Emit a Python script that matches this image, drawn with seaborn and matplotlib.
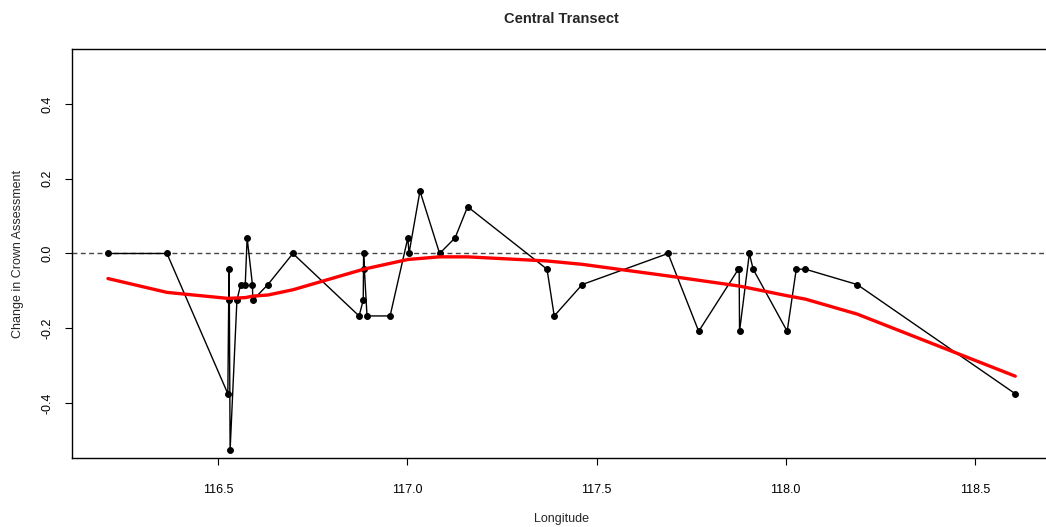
import matplotlib
matplotlib.use("Agg")
import matplotlib.pyplot as plt
import seaborn as sns
import pandas as pd

longitude = [116.208, 116.364, 116.525, 116.528, 116.529, 116.531, 116.549, 116.559,
             116.571, 116.576, 116.590, 116.591, 116.631, 116.697, 116.872, 116.883,
             116.884, 116.886, 116.893, 116.954, 117.001, 117.004, 117.033, 117.085,
             117.126, 117.159, 117.369, 117.388, 117.462, 117.689, 117.770, 117.875,
             117.877, 117.878, 117.904, 117.914, 118.004, 118.028, 118.052, 118.189,
             118.607]
change = [0.0, 0.0, -0.375, -0.042, -0.125, -0.525, -0.125, -0.083,
          -0.083, 0.042, -0.083, -0.125, -0.083, 0.0, -0.167, -0.125,
          0.0, -0.042, -0.167, -0.167, 0.042, 0.0, 0.167, 0.0,
          0.042, 0.125, -0.042, -0.167, -0.083, 0.0, -0.208, -0.042,
          -0.042, -0.208, 0.0, -0.042, -0.208, -0.042, -0.042, -0.083,
          -0.375]

smooth_x = [116.208, 116.364, 116.525, 116.571, 116.591, 116.631, 116.697, 116.884,
            117.001, 117.085, 117.159, 117.369, 117.462, 117.689, 117.877, 118.004,
            118.052, 118.189, 118.607]
smooth_y = [-0.067, -0.104, -0.120, -0.118, -0.114, -0.111, -0.097, -0.042,
            -0.016, -0.009, -0.009, -0.020, -0.029, -0.060, -0.087, -0.113,
            -0.122, -0.162, -0.328]

x_ticks = [116.5, 117.0, 117.5, 118.0, 118.5]
y_ticks = [-0.4, -0.2, 0.0, 0.2, 0.4]

sns.set_style("white")
plt.rcParams['font.family'] = ['Liberation Sans', 'DejaVu Sans']

fig = plt.figure(figsize=(10.46, 5.27), dpi=100)
ax = fig.add_axes([0.0685, 0.1315, 0.9368, 0.775])

df = pd.DataFrame({"lon": longitude, "chg": change})
sm = pd.DataFrame({"lon": smooth_x, "chg": smooth_y})

ax.axhline(0, color="#444444", lw=1.0, ls=(0, (3.5, 2.5)), zorder=1)
sns.lineplot(data=df, x="lon", y="chg", sort=False, estimator=None, color="black",
             lw=1.0, marker="o", markersize=4.2, markeredgecolor="black", ax=ax, zorder=3)
sns.lineplot(data=sm, x="lon", y="chg", sort=False, estimator=None, color="#ff0000",
             lw=2.4, ax=ax, zorder=4)

ax.set_xlim(116.112, 118.703)
ax.set_ylim(-0.546, 0.546)
ax.set_xticks(x_ticks)
ax.set_xticklabels([f"{v:.1f}" for v in x_ticks])
ax.set_yticks(y_ticks)
ax.set_yticklabels([f"{v:.1f}" for v in y_ticks], rotation=90, va="center")

for s in ax.spines.values():
    s.set_color("black")
    s.set_linewidth(1.0)

ax.tick_params(axis="both", direction="out", length=5, width=0.8, color="black",
               labelsize=9, labelcolor="black", left=True, bottom=True)
ax.tick_params(axis="x", pad=14)
ax.tick_params(axis="y", pad=8)

ax.set_xlabel("Longitude", fontsize=9, labelpad=12)
ax.set_ylabel("Change in Crown Assessment", fontsize=9, labelpad=13)
ax.set_title("Central Transect", fontsize=10.5, fontweight="bold", pad=19)

fig.savefig("out.png", dpi=100)
